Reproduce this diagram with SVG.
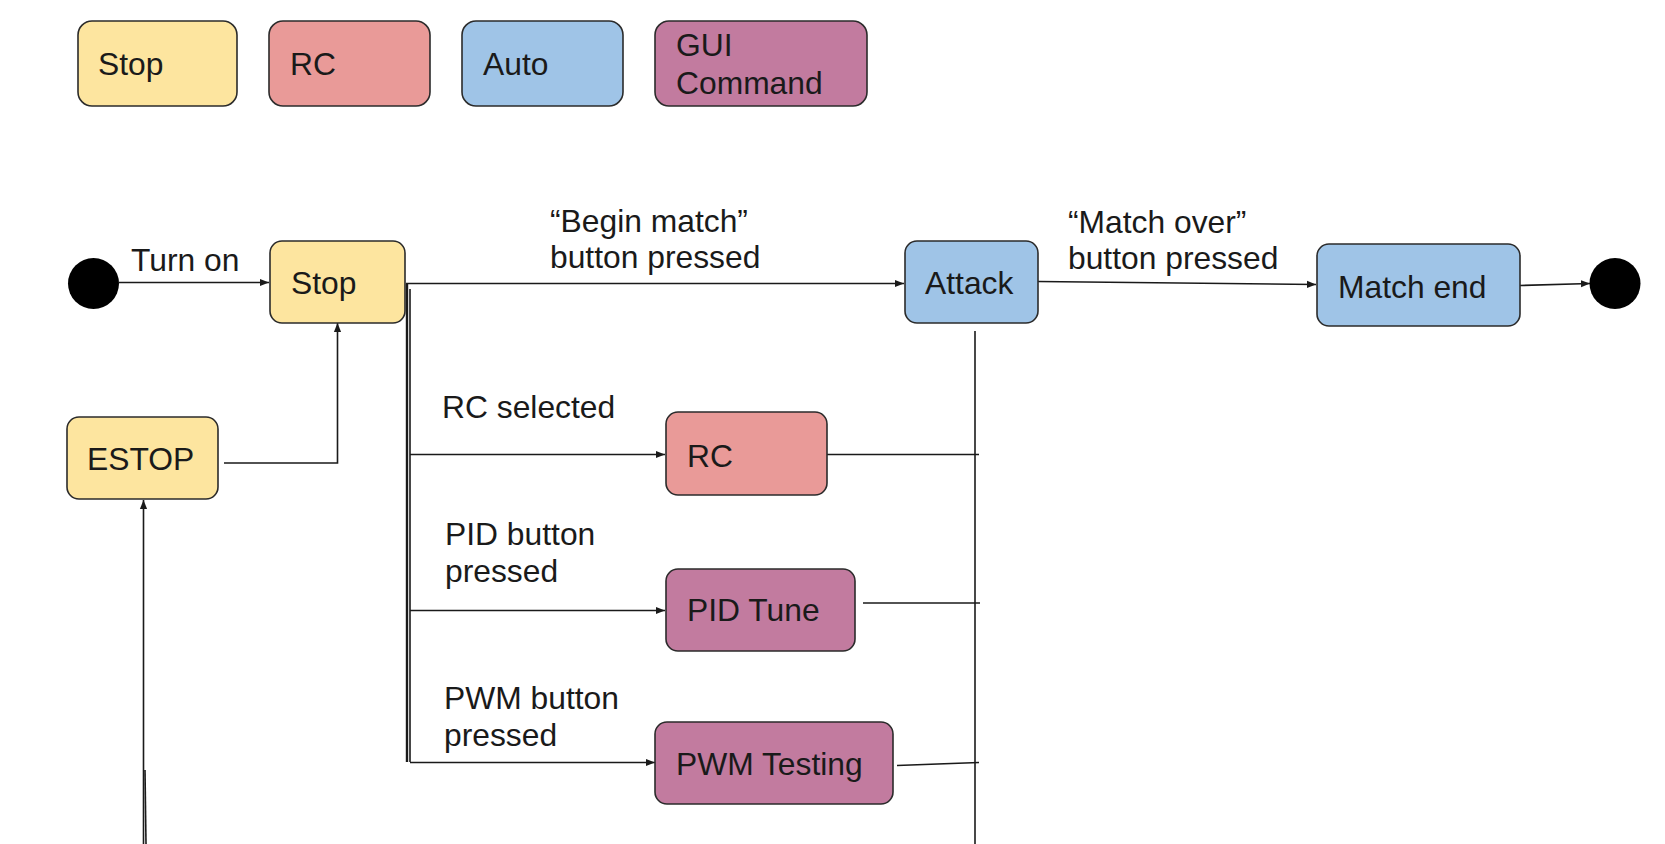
<svg xmlns="http://www.w3.org/2000/svg" width="1665" height="844" viewBox="0 0 1665 844">
<style>
.n{stroke:#2b2b2b;stroke-width:1.6}
.stop{fill:#fde59f}
.rc{fill:#e99a98}
.auto{fill:#9fc4e7}
.gui{fill:#c27b9f}
text{font-family:"Liberation Sans",Arial,sans-serif;font-size:31.8px;fill:#1a1a1a}
.c{fill:none;stroke:#1a1a1a;stroke-width:1.6}
</style>
<defs>
<marker id="ah" viewBox="0 0 10 10" refX="10" refY="5" markerWidth="9" markerHeight="9" markerUnits="userSpaceOnUse" orient="auto">
<path d="M0,1 L10,5 L0,9 Z" fill="#1a1a1a"/>
</marker>
</defs>
<rect width="1665" height="844" fill="#ffffff"/>
<g id="legend-stop"><rect class="n stop" x="78" y="21" width="159" height="85" rx="14"/><text x="98" y="75">Stop</text></g>
<g id="legend-rc"><rect class="n rc" x="269" y="21" width="161" height="85" rx="14"/><text x="290" y="75">RC</text></g>
<g id="legend-auto"><rect class="n auto" x="462" y="21" width="161" height="85" rx="14"/><text x="483" y="75">Auto</text></g>
<g id="legend-gui"><rect class="n gui" x="655" y="21" width="212" height="85" rx="14"/><text x="676" y="56">GUI</text><text x="676" y="94">Command</text></g>

<g id="connectors">
<path class="c" d="M119,282.5 H269" marker-end="url(#ah)"/>
<path class="c" d="M406,283.5 H904" marker-end="url(#ah)"/>
<path class="c" d="M1038,281.5 L1316,284.5" marker-end="url(#ah)"/>
<path class="c" d="M1520,285.5 L1590,283.5" marker-end="url(#ah)"/>
<path class="c" d="M224,463 H337.5 V323" marker-end="url(#ah)"/>
<path class="c" d="M143.5,844 V500" marker-end="url(#ah)"/>
<path class="c" d="M146,844 L145,770"/>
<path class="c" style="stroke-width:2.4" d="M407,283.5 V762"/>
<path class="c" d="M410,289 V762"/>
<path class="c" d="M410,454.5 H665" marker-end="url(#ah)"/>
<path class="c" d="M410,610.5 H665" marker-end="url(#ah)"/>
<path class="c" d="M410,762.5 H655" marker-end="url(#ah)"/>
<path class="c" d="M827,454.5 H979"/>
<path class="c" d="M863,603 H980"/>
<path class="c" d="M897,765.5 L979,762.5"/>
<path class="c" d="M975,331 V844"/>
</g>

<g id="start"><circle cx="93.5" cy="283.5" r="25.5" fill="#000"/></g>
<text x="131" y="271">Turn on</text>
<g id="stop"><rect class="n stop" x="270" y="241" width="135" height="82" rx="12"/><text x="291" y="294">Stop</text></g>
<text x="550" y="231.5">“Begin match”</text>
<text x="550" y="268">button pressed</text>
<g id="attack"><rect class="n auto" x="905" y="241" width="133" height="82" rx="12"/><text x="925" y="294">Attack</text></g>
<text x="1068" y="232.5">“Match over”</text>
<text x="1068" y="269">button pressed</text>
<g id="match-end"><rect class="n auto" x="1317" y="244" width="203" height="82" rx="12"/><text x="1338" y="298">Match end</text></g>
<g id="end"><circle cx="1615" cy="283.5" r="25.5" fill="#000"/></g>
<g id="estop"><rect class="n stop" x="67" y="417" width="151" height="82" rx="12"/><text x="87" y="470">ESTOP</text></g>
<text x="442" y="418">RC selected</text>
<g id="rc"><rect class="n rc" x="666" y="412" width="161" height="83" rx="12"/><text x="687" y="467">RC</text></g>
<text x="445" y="545">PID button</text>
<text x="445" y="582">pressed</text>
<g id="pid-tune"><rect class="n gui" x="666" y="569" width="189" height="82" rx="12"/><text x="687" y="621">PID Tune</text></g>
<text x="444" y="709">PWM button</text>
<text x="444" y="746">pressed</text>
<g id="pwm-testing"><rect class="n gui" x="655" y="722" width="238" height="82" rx="12"/><text x="676" y="775">PWM Testing</text></g>
</svg>
